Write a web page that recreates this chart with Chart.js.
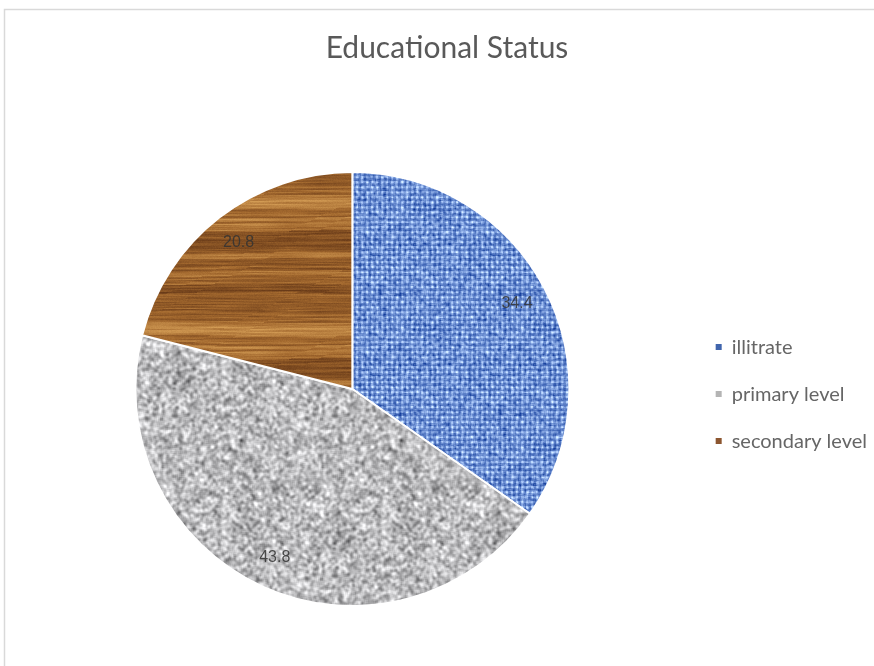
<!DOCTYPE html>
<html>
<head>
<meta charset="utf-8">
<title>Educational Status</title>
<script src="https://cdn.jsdelivr.net/npm/chart.js@4/dist/chart.umd.min.js"></script>
<style>
  html, body { margin: 0; padding: 0; background: #fff; overflow: hidden; }
  #wrap { width: 874px; height: 666px; overflow: hidden; }
</style>
</head>
<body>
<div id="wrap"><canvas id="pie" width="900" height="666"></canvas></div>
<script>
const categories = ['illitrate', 'primary level', 'secondary level'];
const shares = [34.4, 43.8, 20.8];
const legendColors = ['#4065ad', '#b4b4b4', '#8c5630'];

// small seeded generator so the textures come out the same on every load
function seeded(seed) {
  return function () {
    seed = (seed + 0x6D2B79F5) | 0;
    let t = Math.imul(seed ^ (seed >>> 15), 1 | seed);
    t = (t + Math.imul(t ^ (t >>> 7), 61 | t)) ^ t;
    return ((t ^ (t >>> 14)) >>> 0) / 4294967296;
  };
}

// 3x3 box blur that wraps around, so tiles stay seamless
function soften(field, w, h, passes) {
  let src = field;
  for (let p = 0; p < passes; p++) {
    const out = new Float32Array(w * h);
    for (let y = 0; y < h; y++) {
      for (let x = 0; x < w; x++) {
        let s = 0;
        for (let dy = -1; dy <= 1; dy++) {
          for (let dx = -1; dx <= 1; dx++) {
            s += src[((y + dy + h) % h) * w + ((x + dx + w) % w)];
          }
        }
        out[y * w + x] = s / 9;
      }
    }
    src = out;
  }
  return src;
}

// rescale a field to zero mean, unit spread
function normalise(field) {
  let m = 0;
  field.forEach(v => { m += v; });
  m /= field.length;
  let sd = 0;
  field.forEach(v => { sd += (v - m) * (v - m); });
  sd = Math.sqrt(sd / field.length) || 1;
  return field.map(v => (v - m) / sd);
}

function makeTile(w, h, paint) {
  const c = document.createElement('canvas');
  c.width = w; c.height = h;
  const g = c.getContext('2d');
  const img = g.createImageData(w, h);
  for (let y = 0; y < h; y++) {
    for (let x = 0; x < w; x++) {
      const [r, gr, b] = paint(x, y);
      const i = (y * w + x) * 4;
      img.data[i] = r; img.data[i + 1] = gr; img.data[i + 2] = b; img.data[i + 3] = 255;
    }
  }
  g.putImageData(img, 0, 0);
  return c;
}

const clamp = v => Math.max(0, Math.min(255, Math.round(v)));

// blue woven cloth
function fabricTile() {
  const rand = seeded(11);
  const size = 120;
  const f = new Float32Array(size * size);
  for (let y = 0; y < size; y++) {
    for (let x = 0; x < size; x++) {
      const cx = x % 5, cy = y % 5;
      let w = 0.2;
      if (cx === 4 || cy === 4) w = -0.9;
      else if (cx === 0 || cy === 0) w = -0.2;
      else if (cx === 2 && cy === 2) w = 0.8;
      f[y * size + x] = w + (rand() - 0.5) * 1.8;
    }
  }
  const v = normalise(soften(f, size, size, 1));
  return makeTile(size, size, (x, y) => {
    const t = v[y * size + x];
    return [clamp(112 + t * 36), clamp(146 + t * 33), clamp(212 + t * 22)];
  });
}

// mottled grey stone
function graniteTile() {
  const rand = seeded(23);
  const size = 160;
  const f = new Float32Array(size * size).map(() => rand());
  for (let k = 0; k < 50; k++) {
    f[Math.floor(rand() * size * size)] = -0.8;
  }
  const v = normalise(soften(f, size, size, 2));
  return makeTile(size, size, (x, y) => {
    const g = 186 + v[y * size + x] * 25;
    return [clamp(g), clamp(g), clamp(g + 2)];
  });
}

// brown wood grain, running left to right
function woodTile() {
  const rand = seeded(5);
  const W = 256, H = 128;
  const raw = Array.from({ length: H }, () => rand());
  const knots = Array.from({ length: H / 8 }, () => rand());
  const tone = raw.map((_, y) => {
    const fine = (raw[(y + H - 1) % H] + 2 * raw[y] + raw[(y + 1) % H]) / 4;
    const k = Math.floor(y / 8), f = (y % 8) / 8;
    const coarse = knots[k] * (1 - f) + knots[(k + 1) % knots.length] * f;
    return 0.45 * coarse + 0.55 * fine;
  });
  // slow variation along each row, interpolated so no hard seams
  const cols = W / 32;
  const drift = Array.from({ length: cols * H }, () => rand());
  return makeTile(W, H, (x, y) => {
    const yy = (y + Math.round(1.5 * Math.sin((x / W) * Math.PI * 2 + y * 0.05)) + H) % H;
    const c0 = Math.floor(x / 32), fx = (x % 32) / 32;
    const d = drift[y * cols + c0] * (1 - fx) + drift[y * cols + (c0 + 1) % cols] * fx;
    let v = tone[yy] * 0.8 + d * 0.2 + (rand() - 0.5) * 0.06;
    v = Math.max(0, Math.min(1, (v - 0.2) * 1.6));
    const dark = [104, 58, 24], mid = [162, 104, 46], light = [210, 155, 84];
    const mix = v < 0.5
      ? dark.map((c, i) => c + (mid[i] - c) * (v / 0.5))
      : mid.map((c, i) => c + (light[i] - c) * ((v - 0.5) / 0.5));
    return mix.map(clamp);
  });
}

const ctx = document.getElementById('pie').getContext('2d');
const fills = [fabricTile(), graniteTile(), woodTile()].map(t => ctx.createPattern(t, 'repeat'));

// white page, thin grey frame and the heading
const frame = {
  id: 'frame',
  beforeDraw(chart) {
    const c = chart.ctx;
    c.save();
    c.fillStyle = '#ffffff';
    c.fillRect(0, 0, chart.width, chart.height);
    c.strokeStyle = '#d9d9d9';
    c.lineWidth = 1.5;
    c.beginPath();
    c.moveTo(4.5, chart.height);
    c.lineTo(4.5, 9.5);
    c.lineTo(chart.width, 9.5);
    c.stroke();
    c.fillStyle = '#595959';
    c.font = '30px Lato, "Open Sans", sans-serif';
    c.textAlign = 'center';
    c.textBaseline = 'middle';
    c.fillText('Educational Status', 447, 48);
    c.restore();
  }
};

// value printed inside each slice
const sliceLabels = {
  id: 'sliceLabels',
  afterDatasetsDraw(chart) {
    const c = chart.ctx;
    const meta = chart.getDatasetMeta(0);
    c.save();
    c.font = '16px "Liberation Sans", Arial, sans-serif';
    c.fillStyle = 'rgba(50, 50, 50, 0.85)';
    c.textAlign = 'center';
    c.textBaseline = 'middle';
    meta.data.forEach((arc, i) => {
      const { x, y, startAngle, endAngle, outerRadius } =
        arc.getProps(['x', 'y', 'startAngle', 'endAngle', 'outerRadius'], true);
      const mid = (startAngle + endAngle) / 2;
      const r = outerRadius * 0.855;
      c.fillText(shares[i].toFixed(1), x + Math.cos(mid) * r, y + Math.sin(mid) * r);
    });
    c.restore();
  }
};

new Chart(ctx, {
  type: 'pie',
  data: {
    labels: categories,
    datasets: [{
      data: shares,
      backgroundColor: fills,
      borderColor: '#ffffff',
      borderWidth: 2
    }]
  },
  options: {
    responsive: false,
    animation: false,
    events: [],
    layout: { padding: { top: 171, left: 16, right: 23, bottom: 59 } },
    plugins: {
      title: { display: false },
      tooltip: { enabled: false },
      legend: {
        position: 'right',
        fullSize: false,
        title: { display: true, text: '', font: { size: 1 }, padding: { top: 0, bottom: 9 } },
        labels: {
          boxWidth: 6,
          boxHeight: 6,
          padding: 27,
          color: '#595959',
          font: { family: 'Lato, "Open Sans", sans-serif', size: 20 },
          generateLabels: () => categories.map((text, i) => ({
            text,
            fillStyle: legendColors[i],
            strokeStyle: legendColors[i],
            lineWidth: 0,
            hidden: false,
            index: i
          }))
        }
      }
    }
  },
  plugins: [frame, sliceLabels]
});
</script>
</body>
</html>
